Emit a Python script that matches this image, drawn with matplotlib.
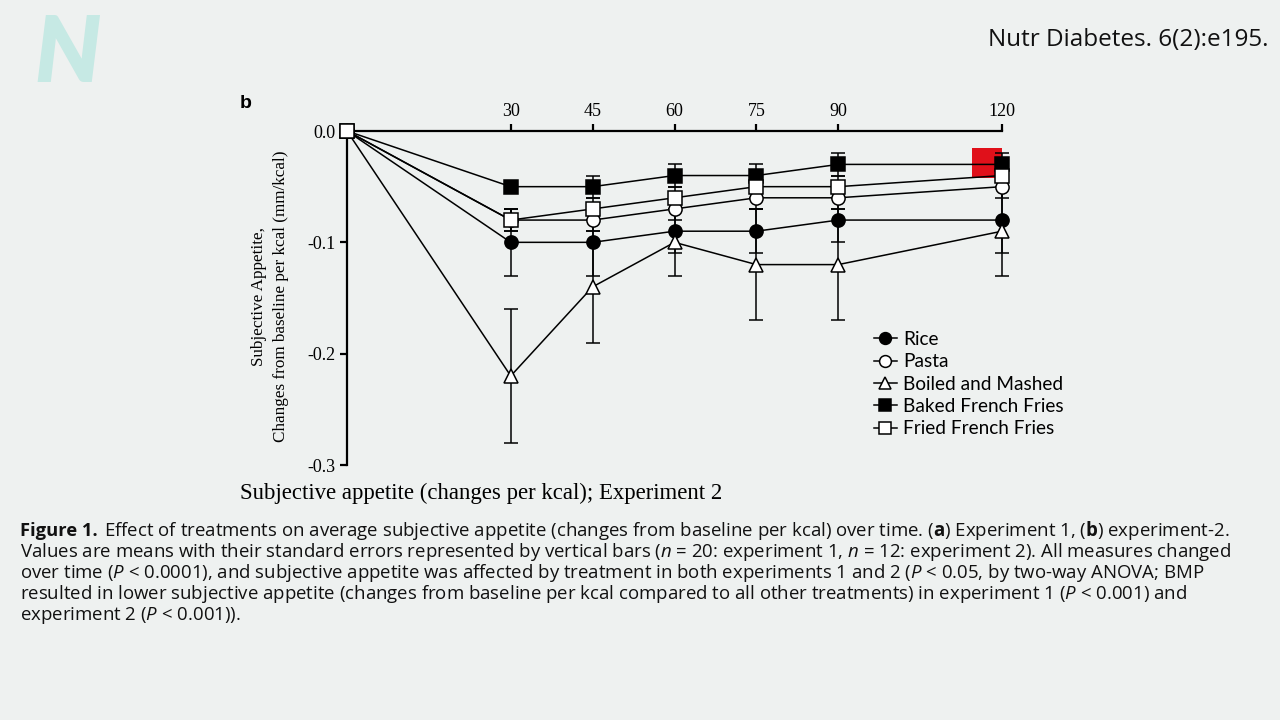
import matplotlib
matplotlib.use("Agg")
import matplotlib.pyplot as plt
from matplotlib.patches import Rectangle

# time points (min) and mean changes from baseline per kcal
times = [0, 30, 45, 60, 75, 90, 120]
rice = [0.0, -0.10, -0.10, -0.09, -0.09, -0.08, -0.08]
pasta = [0.0, -0.08, -0.08, -0.07, -0.06, -0.06, -0.05]
boiled = [0.0, -0.22, -0.14, -0.10, -0.12, -0.12, -0.09]
baked = [0.0, -0.05, -0.05, -0.04, -0.04, -0.03, -0.03]
fried = [0.0, -0.08, -0.07, -0.06, -0.05, -0.05, -0.04]

# standard errors
rice_se = [0.0, 0.03, 0.03, 0.02, 0.02, 0.02, 0.03]
pasta_se = [0.0, 0.01, 0.01, 0.01, 0.01, 0.01, 0.01]
boiled_se = [0.0, 0.06, 0.05, 0.03, 0.05, 0.05, 0.04]
baked_se = [0.0, 0.005, 0.01, 0.01, 0.01, 0.01, 0.01]
fried_se = [0.0, 0.01, 0.01, 0.01, 0.01, 0.01, 0.01]

labels = ["Rice", "Pasta", "Boiled and Mashed", "Baked French Fries", "Fried French Fries"]
xticks = [30, 45, 60, 75, 90, 120]
yticks = [0.0, -0.1, -0.2, -0.3]

plt.rcParams['mathtext.fontset'] = 'custom'
plt.rcParams['mathtext.rm'] = 'Open Sans'
plt.rcParams['mathtext.it'] = 'Open Sans:italic'
plt.rcParams['mathtext.bf'] = 'Open Sans:bold'

bg = '#eef1f0'
fig = plt.figure(figsize=(12.8, 7.2), dpi=100, facecolor=bg)
ax = fig.add_axes([347/1280, 1-465/720, (1002-347)/1280, (465-131)/720])
ax.set_facecolor(bg)

series = [(rice, rice_se, 'o', 'black'),
          (pasta, pasta_se, 'o', 'white'),
          (boiled, boiled_se, '^', 'white'),
          (baked, baked_se, 's', 'black'),
          (fried, fried_se, 's', 'white')]

handles = []
for (vals, se, mk, fc), lab in zip(series, labels):
    c = ax.errorbar(times, vals, yerr=se, color='black', lw=1.1, marker=mk,
                    mfc=fc, mec='black', mew=1.1, ms=9.5, capsize=5,
                    elinewidth=1.1, capthick=1.1, clip_on=False, label=lab, zorder=3)
    for art in c.lines[1] + c.lines[2]:
        art.set_clip_on(False)
    handles.append(c.lines[0])

# red highlight from the slide
ax.add_patch(Rectangle((114.5, -0.042), 5.5, 0.027, color='#e0101a', zorder=1.5, lw=0))

ax.set_xlim(0, 120)
ax.set_ylim(-0.3, 0.0)
ax.xaxis.tick_top()
ax.set_xticks(xticks)
ax.set_yticks(yticks)
ax.set_yticklabels(['%.1f' % v for v in yticks])
for s in ['bottom', 'right']:
    ax.spines[s].set_visible(False)
for s in ['left', 'top']:
    ax.spines[s].set_linewidth(1.6)
ax.tick_params(axis='both', direction='out', length=5, width=1.6,
               labelsize=13, pad=3)
for t in ax.get_xticklabels() + ax.get_yticklabels():
    t.set_fontfamily('Liberation Serif')

fig.text(270/1280, 1-296/720, 'Subjective Appetite,\nChanges from baseline per kcal (mm/kcal)',
         rotation=90, ha='center', va='center', family='Liberation Serif',
         fontsize=12.3, linespacing=1.45)

fig.text(240/1280, 1-493/720, 'Subjective appetite (changes per kcal); Experiment 2',
         ha='left', va='center', family='Liberation Serif', fontsize=16.4)

fig.text(240/1280, 1-103/720, 'b', ha='left', va='center', family='Liberation Sans',
         fontweight='bold', fontsize=14)

leg = ax.legend(handles=handles, labels=labels, loc='upper left',
                bbox_to_anchor=(874/1280, 1-331/720), bbox_transform=fig.transFigure,
                frameon=False, handlelength=1.2, handletextpad=0.35,
                labelspacing=0.28, borderpad=0, borderaxespad=0,
                prop={'family': 'Lato', 'size': 13.7})
for h in leg.legend_handles:
    h.set_markersize(8.5)

# slide decorations
fig.text(68/1280, 1-55/720, 'N', ha='center', va='center', family='Lato',
         fontweight='heavy', style='italic', fontsize=66, color='#c6e9e4')
fig.text(1268/1280, 1-40/720, 'Nutr Diabetes. 6(2):e195.', ha='right', va='center',
         family='Open Sans', fontsize=17.5, color='#111111')

caption = [
    r'Effect of treatments on average subjective appetite (changes from baseline per kcal) over time. ($\bf{a}$) Experiment 1, ($\bf{b}$) experiment-2.',
    r'Values are means with their standard errors represented by vertical bars ($\it{n}$ = 20: experiment 1, $\it{n}$ = 12: experiment 2). All measures changed',
    r'over time ($\it{P}$ < 0.0001), and subjective appetite was affected by treatment in both experiments 1 and 2 ($\it{P}$ < 0.05, by two-way ANOVA; BMP',
    r'resulted in lower subjective appetite (changes from baseline per kcal compared to all other treatments) in experiment 1 ($\it{P}$ < 0.001) and',
    r'experiment 2 ($\it{P}$ < 0.001)).',
]
fig.text(20/1280, 1-531/720, 'Figure 1.', ha='left', va='center', family='Open Sans',
         fontweight='bold', fontsize=13.2, color='#111111')
for i, line in enumerate(caption):
    x0 = 104 if i == 0 else 20
    fig.text(x0/1280, 1-(531+21*i)/720, line, ha='left', va='center',
             family='Open Sans', fontsize=13.4, color='#111111')

fig.savefig('out.png', dpi=100, facecolor=bg)
